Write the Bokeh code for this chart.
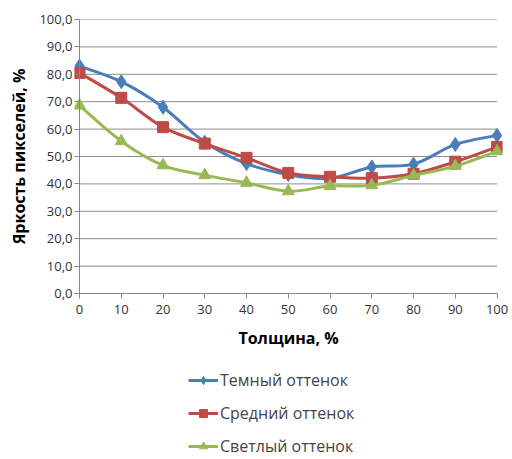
import numpy as np
from bokeh.plotting import figure
from bokeh.layouts import column
from bokeh.models import Range1d, Legend, LegendItem, CustomJSTickFormatter, FixedTicker, Span
from bokeh.embed import file_html
from bokeh.resources import INLINE

thickness = [0, 10, 20, 30, 40, 50, 60, 70, 80, 90, 100]
dark = [83.0, 77.3, 68.0, 55.2, 47.4, 43.4, 42.0, 46.2, 47.2, 54.4, 57.7]
medium = [80.5, 71.4, 60.7, 54.7, 49.5, 44.0, 42.6, 42.1, 43.7, 48.1, 53.5]
light = [68.6, 55.6, 46.8, 43.2, 40.4, 37.3, 39.2, 39.5, 43.1, 46.5, 51.9]
y_ticks = [0, 10, 20, 30, 40, 50, 60, 70, 80, 90, 100]
labels = ["Темный оттенок", "Средний оттенок", "Светлый оттенок"]
colors = ["#4a7ebb", "#be4b48", "#98b954"]
markers = ["diamond", "square", "triangle"]
sizes = [14, 11, 12]

FONT = "Open Sans"
GRID = "#8c8c8c"
AXIS = "#868686"
LEFT, RIGHT = 74, 6

p = figure(width=508, height=359, output_backend="svg", toolbar_location=None,
           x_range=Range1d(-1.2, 101.3), y_range=Range1d(0, 100),
           min_border_left=LEFT, min_border_right=RIGHT, min_border_top=19, min_border_bottom=66)
p.outline_line_color = None
p.background_fill_color = "white"
p.border_fill_color = "white"
p.xgrid.grid_line_color = None
p.ygrid.grid_line_color = None

# horizontal gridlines spanning the axis extent only
p.segment(x0=[thickness[0]] * len(y_ticks), x1=[thickness[-1]] * len(y_ticks),
          y0=y_ticks, y1=y_ticks, line_color=GRID, line_width=1)
# vertical axis line at x = 0
p.add_layout(Span(location=thickness[0], dimension="height", line_color=AXIS, line_width=1))

p.xaxis.ticker = FixedTicker(ticks=thickness)
p.xaxis.bounds = (thickness[0], thickness[-1])
p.yaxis.ticker = FixedTicker(ticks=y_ticks)
p.yaxis.formatter = CustomJSTickFormatter(code="return tick.toFixed(1).replace('.', ',');")
for ax in (p.xaxis, p.yaxis):
    ax.axis_line_color = AXIS
    ax.major_tick_line_color = AXIS
    ax.minor_tick_line_color = None
    ax.major_label_text_font = FONT
    ax.major_label_text_font_size = "13px"
    ax.major_label_text_color = "#333333"
    ax.axis_label_text_font = FONT
    ax.axis_label_text_font_style = "bold"
    ax.axis_label_text_font_size = "16px"
    ax.axis_label_text_color = "black"
p.xaxis.major_tick_in = 0
p.xaxis.major_tick_out = 5
p.yaxis.axis_line_color = None
p.yaxis.major_tick_in = 5
p.yaxis.major_tick_out = 0
p.xaxis.axis_label = "Толщина, %"
p.yaxis.axis_label = "Яркость пикселей, %"
p.xaxis.major_label_standoff = 6
p.xaxis.axis_label_standoff = 10
p.yaxis.major_label_standoff = 2
p.yaxis.axis_label_standoff = 6


def smooth_segments(xs, ys, t=1.0 / 6.0):
    xs = np.asarray(xs, float)
    ys = np.asarray(ys, float)
    n = len(xs)
    px = np.concatenate([[xs[0]], xs, [xs[-1]]])
    py = np.concatenate([[ys[0]], ys, [ys[-1]]])
    out = {k: [] for k in ["x0", "y0", "x1", "y1", "cx0", "cy0", "cx1", "cy1"]}
    for i in range(n - 1):
        a, b, c, d = i, i + 1, i + 2, i + 3
        out["x0"].append(px[b]); out["y0"].append(py[b])
        out["x1"].append(px[c]); out["y1"].append(py[c])
        out["cx0"].append(px[b] + (px[c] - px[a]) * t)
        out["cy0"].append(py[b] + (py[c] - py[a]) * t)
        out["cx1"].append(px[c] - (px[d] - px[b]) * t)
        out["cy1"].append(py[c] - (py[d] - py[b]) * t)
    return out


for series, col, mk, sz in zip([dark, medium, light], colors, markers, sizes):
    seg = smooth_segments(thickness, series)
    p.bezier(line_color=col, line_width=3, **seg)
    p.scatter(thickness, series, marker=mk, size=sz, fill_color=col, line_color=col)

# legend panel below the chart
lf = figure(width=508, height=98, output_backend="svg", toolbar_location=None,
            x_range=Range1d(0, 1), y_range=Range1d(0, 1),
            min_border_left=LEFT, min_border_right=RIGHT, min_border_top=0, min_border_bottom=0)
lf.axis.visible = False
lf.grid.grid_line_color = None
lf.outline_line_color = None
items = []
for series, lab, col, mk, sz in zip([dark, medium, light], labels, colors, markers, sizes):
    lr = lf.line(thickness, series, line_color=col, line_width=3, visible=False)
    sr = lf.scatter(thickness, series, marker=mk, size=sz - 2, fill_color=col,
                    line_color=col, visible=False)
    items.append(LegendItem(label=lab, renderers=[lr, sr]))
legend = Legend(items=items, location=(114, 0), orientation="vertical",
                background_fill_alpha=0, border_line_color=None,
                label_text_font=FONT, label_text_font_size="16px",
                glyph_width=30, glyph_height=20, label_height=20,
                spacing=11, label_standoff=2, padding=0, margin=0)
lf.add_layout(legend, "center")

layout = column(p, lf, spacing=0)
open("out.html", "w").write(file_html(layout, INLINE))
